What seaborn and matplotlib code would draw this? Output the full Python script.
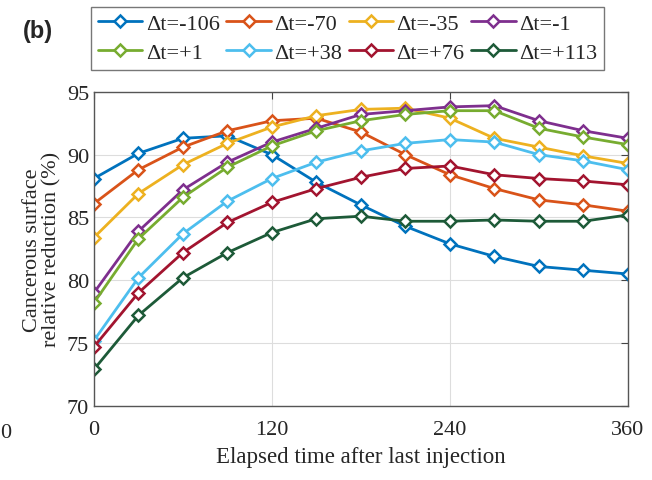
import matplotlib
matplotlib.use("Agg")
import matplotlib.pyplot as plt
import numpy as np
import pandas as pd
import seaborn as sns

# Data
minutes = [0, 30, 60, 90, 120, 150, 180, 210, 240, 270, 300, 330, 360]
labels = ["Δt=-106", "Δt=-70", "Δt=-35", "Δt=-1",
          "Δt=+1", "Δt=+38", "Δt=+76", "Δt=+113"]
dt_m106 = [88.1, 90.1, 91.3, 91.5, 90.0, 87.8, 86.0, 84.3, 82.9, 81.9, 81.1, 80.8, 80.5]
dt_m70 = [86.1, 88.8, 90.6, 91.9, 92.7, 92.9, 91.8, 90.0, 88.4, 87.3, 86.4, 86.0, 85.5]
dt_m35 = [83.4, 86.9, 89.2, 90.9, 92.2, 93.1, 93.6, 93.7, 92.9, 91.3, 90.6, 89.9, 89.3]
dt_m1 = [79.0, 83.9, 87.2, 89.4, 91.0, 92.1, 93.2, 93.5, 93.8, 93.9, 92.7, 91.9, 91.3]
dt_p1 = [78.2, 83.3, 86.6, 89.0, 90.7, 91.9, 92.7, 93.2, 93.5, 93.5, 92.1, 91.4, 90.8]
dt_p38 = [75.2, 80.2, 83.7, 86.3, 88.1, 89.4, 90.3, 90.9, 91.2, 91.0, 90.0, 89.5, 88.8]
dt_p76 = [74.7, 79.0, 82.2, 84.6, 86.2, 87.3, 88.2, 88.9, 89.1, 88.4, 88.1, 87.9, 87.6]
dt_p113 = [72.9, 77.2, 80.2, 82.2, 83.8, 84.9, 85.1, 84.7, 84.7, 84.8, 84.7, 84.7, 85.2]
series = [dt_m106, dt_m70, dt_m35, dt_m1, dt_p1, dt_p38, dt_p76, dt_p113]
colors = ["#0072BD", "#D95319", "#EDB120", "#7E2F8E",
          "#77AC30", "#4DBEEE", "#A2142F", "#1D5A38"]

df = pd.DataFrame({
    "time": np.tile(minutes, len(series)),
    "value": np.concatenate(series),
    "group": np.repeat(labels, len(minutes)),
})

sns.set_style("white")
plt.rcParams["font.family"] = ["Liberation Serif", "DejaVu Serif"]

fig = plt.figure(figsize=(6.52, 4.81), dpi=100)
ax = fig.add_axes([0.144, 0.154, 0.819, 0.653])

for lab, col in zip(labels, colors):
    sns.lineplot(data=df[df["group"] == lab], x="time", y="value", ax=ax,
                 color=col, linewidth=2, marker="D", markersize=6,
                 markerfacecolor="white", markeredgecolor=col,
                 markeredgewidth=1.8, label=lab)

ax.set_xlim(0, 360)
ax.set_ylim(70, 95)
ax.set_xticks([0, 120, 240, 360])
ax.set_yticks([70, 75, 80, 85, 90, 95])
ax.grid(True, color="#dddddd", linewidth=0.8)
ax.tick_params(direction="in", labelsize=16, length=5, color="#444444",
               top=True, right=True, labeltop=False, labelright=False)
ax.tick_params(axis="x", pad=10)
for sp in ax.spines.values():
    sp.set_color("#555555")
    sp.set_linewidth(1.0)

ax.set_xlabel("Elapsed time after last injection", fontsize=16.5, labelpad=5)
ax.set_ylabel("Cancerous surface\nrelative reduction (%)", fontsize=16,
              labelpad=4, linespacing=1.0)

# legend filled row by row like the original
handles, labs = ax.get_legend_handles_labels()
order = [0, 4, 1, 5, 2, 6, 3, 7]
ax.legend([handles[i] for i in order], [labs[i] for i in order],
          ncol=4, loc="lower center", bbox_to_anchor=(0.475, 1.07),
          fontsize=16, frameon=True, fancybox=False, edgecolor="#555555",
          handlelength=2.0, handletextpad=0.15, columnspacing=0.3,
          borderpad=0.3, labelspacing=0.4, borderaxespad=0)

fig.text(0.035, 0.92, "(b)", fontsize=17, fontweight="bold",
         family=["Liberation Sans", "DejaVu Sans"])
fig.text(0.0, 0.09, "0", fontsize=16)

fig.savefig("out.png", dpi=100)
